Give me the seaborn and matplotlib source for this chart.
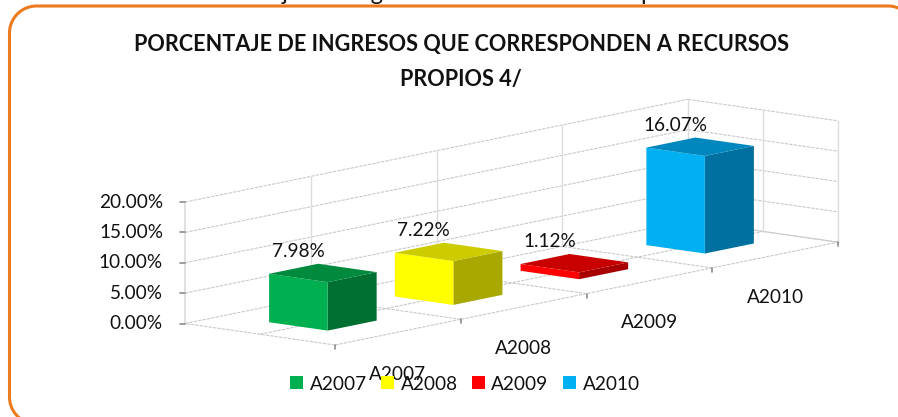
import numpy as np
import pandas as pd
import seaborn as sns
import matplotlib
matplotlib.use("Agg")
import matplotlib.pyplot as plt
from matplotlib.patches import Polygon, Patch
from matplotlib.transforms import Affine2D

categories = ["A2007", "A2008", "A2009", "A2010"]
values = [7.98, 7.22, 1.12, 16.07]
value_labels = ["7.98%", "7.22%", "1.12%", "16.07%"]
y_ticks = [0, 5, 10, 15, 20]
y_tick_labels = ["0.00%", "5.00%", "10.00%", "15.00%", "20.00%"]
front_colors = ["#00B050", "#FFFF00", "#FF0000", "#00B0F0"]
side_colors = ["#007030", "#A8A800", "#A80000", "#0070A0"]
top_colors = ["#008A3E", "#CCCC00", "#C80000", "#0088BE"]
title_lines = ["PORCENTAJE DE INGRESOS QUE CORRESPONDEN A RECURSOS", "PROPIOS 4/"]
header_words = ["Gráfica", "4.", "Porcentaje", "de", "Ingresos", "Recursos", "Propios"]
header_x = [15, 120, 190, 285, 352, 470, 606]

sns.set_theme(style="white")
plt.rcParams["font.family"] = ["Lato", "DejaVu Sans"]

W, H = 898, 417
TEXT = "#111111"
FS = 13.7
fig = plt.figure(figsize=(W / 100, H / 100), dpi=100)
ax = fig.add_axes([0, 0, 1, 1])

# oblique projection: category step, depth step, value step
C0 = np.array([335.0, 345.0])
U = np.array([125.75, -25.7])
D = np.array([-150.0, -21.5])
V = np.array([0.0, -6.07])
BAR_W = 0.39
B0 = 0.305


def P(cat, dep, val):
    return C0 + cat * U + dep * D + val * V


df = pd.DataFrame({"cat": categories, "val": values})
sns.barplot(data=df, x="cat", y="val", hue="cat", palette=side_colors, width=BAR_W,
            order=categories, hue_order=categories, dodge=False, legend=False,
            saturation=1, ax=ax, zorder=3)
bars = list(ax.patches)

ax.set_xlim(0, W)
ax.set_ylim(H, 0)
ax.axis("off")

# seaborn's (category, value) plane mapped on to the right face of each column
origin = P(0.5, B0, 0)
T = Affine2D.from_values(U[0], U[1], V[0], V[1], origin[0], origin[1])
for b in bars:
    b.set_transform(T + ax.transData)
    b.set_clip_on(False)
    b.set_linewidth(0)

GRID = "#C9C9C9"
WALL = "#DCDCDC"
TICK = "#8C8C8C"
n = len(categories)
ymax = y_ticks[-1]


def seg(a, b, **kw):
    style = dict(color=GRID, lw=0.8, ls=(0, (3, 1)), zorder=1)
    style.update(kw)
    ax.plot([a[0], b[0]], [a[1], b[1]], **style)


for k, t in enumerate(y_ticks):
    seg(P(0, 1, t), P(n, 1, t))
    seg(P(n, 1, t), P(n, 0, t))
    tick = P(0, 1, t)
    seg(tick + [-5, 0], tick, color=TICK, lw=1.2, ls="-", zorder=2)
    ax.text(tick[0] - 22, tick[1], y_tick_labels[k], ha="right", va="center",
            fontsize=FS, color=TEXT)
seg(P(0, 1, 0), P(0, 1, ymax), color=WALL, lw=1.2, ls="-")
for i in range(n + 1):
    a, b = P(i, 0, 0), P(i, 1, 0)
    seg(a, b)
    if i > 0:
        seg(b, P(i, 1, ymax), color=WALL, lw=1.0, ls="-")
    seg(a, a + [0, 4], color=TICK, lw=1.2, ls="-", zorder=2)
for dep in (0, 0.5):
    seg(P(0, dep, 0), P(n, dep, 0))
for dep in (0, 0.5):
    seg(P(n, dep, 0), P(n, dep, ymax), color=WALL, lw=1.0, ls="-")

half = BAR_W / 2
for i, v in enumerate(values):
    c0, c1 = i + 0.5 - half, i + 0.5 + half
    d0, d1 = B0, B0 + BAR_W
    ax.add_patch(Polygon([P(c0, d0, 0), P(c0, d1, 0), P(c0, d1, v), P(c0, d0, v)],
                         closed=True, fc=front_colors[i], ec="none", zorder=3))
    ax.add_patch(Polygon([P(c0, d0, v), P(c0, d1, v), P(c1, d1, v), P(c1, d0, v)],
                         closed=True, fc=top_colors[i], ec="none", zorder=3))
    apex = P(c0, d1, v)
    ax.text(apex[0] + 29, apex[1] - 14, value_labels[i], ha="center", va="bottom",
            fontsize=FS, color=TEXT, zorder=5)
    lab = P(i + 0.5, 0, 0)
    ax.text(lab[0], lab[1] + 42, categories[i], ha="center", va="center",
            fontsize=FS, color=TEXT, zorder=4)

ax.text(461, 44, title_lines[0], ha="center", va="center",
        fontsize=15.6, fontweight="bold", color=TEXT)
ax.text(461, 79, title_lines[1], ha="center", va="center",
        fontsize=15.6, fontweight="bold", color=TEXT)
for word, x in zip(header_words, header_x):
    ax.text(x, 0, word, ha="left", va="baseline", fontsize=17, color=TEXT, clip_on=True)

# rounded frame, running past the right and bottom picture edges
L, Tp, R, Bt, r = 9.5, 6.0, 915.0, 424.0, 27.0
th = np.linspace(0, np.pi / 2, 30)
fx = np.r_[L + r - r * np.sin(th[::-1]), R - r + r * np.sin(th),
           R - r + r * np.cos(th), L + r - r * np.sin(th), L]
fy = np.r_[Tp + r - r * np.cos(th[::-1]), Tp + r - r * np.cos(th),
           Bt - r + r * np.sin(th), Bt - r + r * np.cos(th), Tp + r]
ax.plot(fx, fy, color="#EC7A1E", lw=2.2, zorder=6)

handles = [Patch(fc=c, ec="none") for c in front_colors]
ax.legend(handles, categories, ncol=4, loc="center", bbox_to_anchor=(465 / W, 1 - 384 / H),
          frameon=False, fontsize=FS, handlelength=0.68, handleheight=0.68,
          handletextpad=0.32, columnspacing=0.78, labelcolor=TEXT)

fig.savefig("out.png", dpi=100)
